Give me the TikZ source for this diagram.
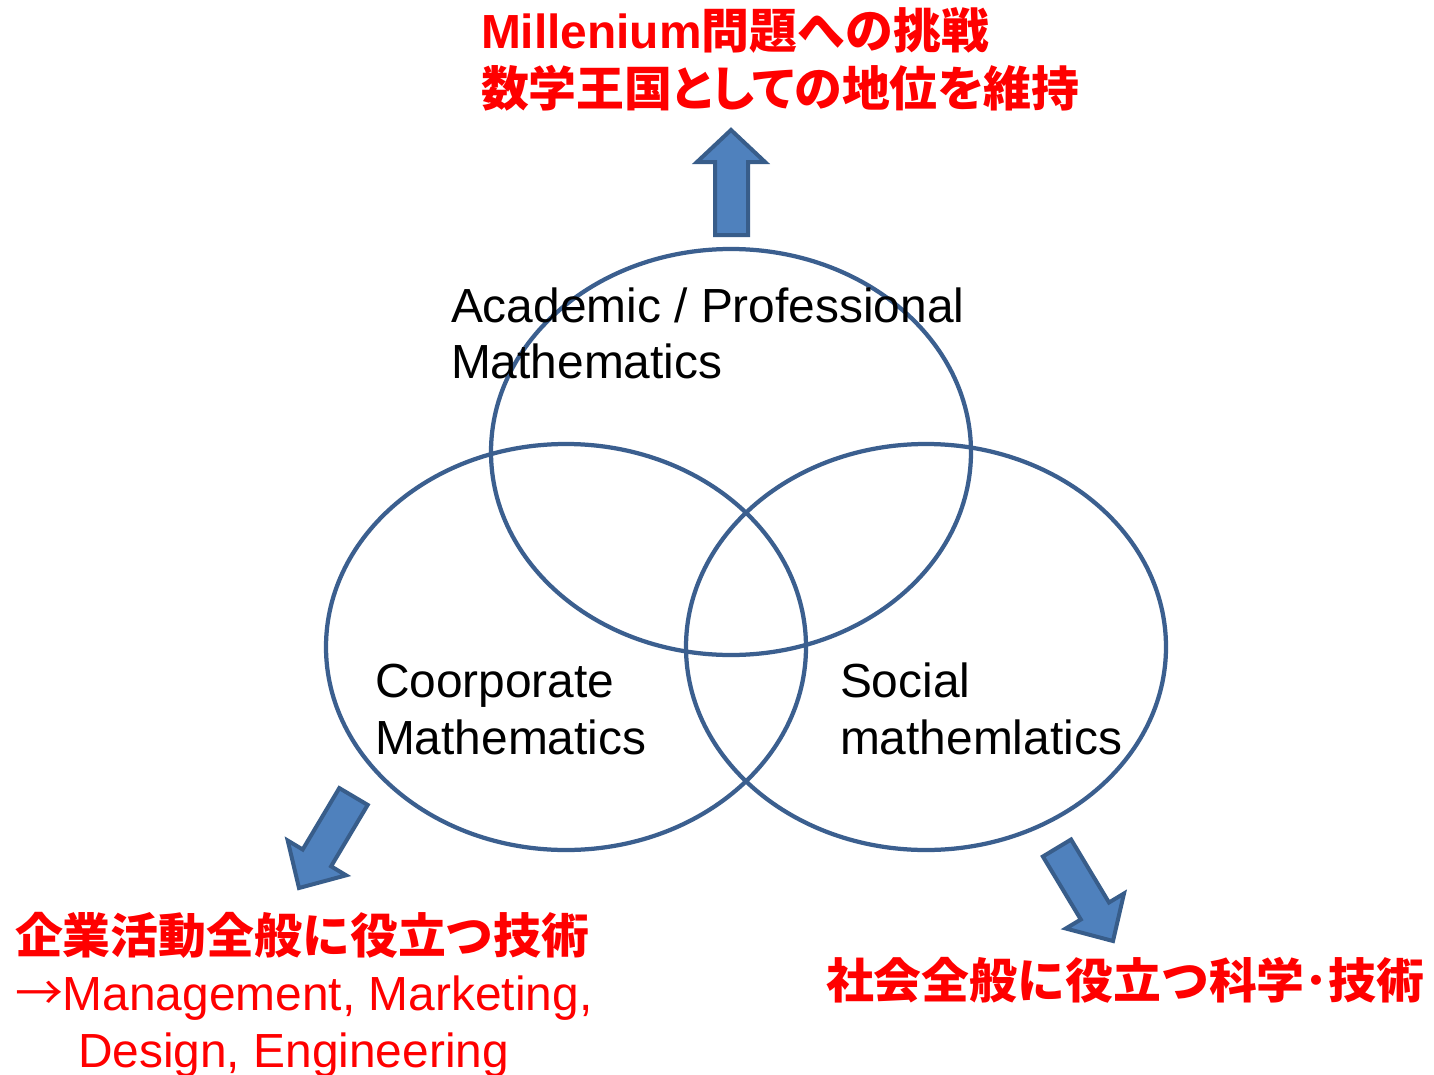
\documentclass[tikz,border=0pt]{standalone}
\usepackage{fontspec}
\setmainfont{Liberation Sans}
\newfontfamily\jp{Noto Sans CJK JP}
\newfontfamily\jpp{Noto Sans CJK JP}[RawFeature=+palt]
\definecolor{ringblue}{HTML}{3B5F8F}
\definecolor{arrowfill}{HTML}{4F81BD}
\definecolor{arrowline}{HTML}{385D8A}
\definecolor{txtred}{HTML}{FF0000}
\tikzset{
  ring/.style={draw=ringblue, line width=0.085cm},
  blockarrow/.style={fill=arrowfill, draw=arrowline, line width=0.08cm, line join=miter},
  lbl/.style={anchor=base west, inner sep=0pt, outer sep=0pt, font=\fontsize{27.25}{32}\selectfont},
  redlbl/.style={lbl, text=txtred},
}
\begin{document}
\begin{tikzpicture}[x=0.02cm, y=-0.02cm]
\useasboundingbox (0,0) rectangle (1434,1075);
\fill[white] (0,0) rectangle (1434,1075);
% circles
\draw[ring] (731,452) ellipse [x radius=240, y radius=203];
\draw[ring] (566,647) ellipse [x radius=240, y radius=203];
\draw[ring] (926,647) ellipse [x radius=240, y radius=203];
% block arrows
\draw[blockarrow] (731,130) -- (765,162) -- (748,162) -- (748,235) -- (715,235) -- (715,162) -- (697,162) -- cycle;
\draw[blockarrow] (339.3,788.1) -- (302.7,849.5) -- (287.7,840.5) -- (299,888) -- (346.1,875.3) -- (331.1,866.3) -- (367.7,804.9) -- cycle;
\draw[blockarrow] (1071.1,839.5) -- (1109.0,902.5) -- (1124.0,893.5) -- (1113,941) -- (1065.8,928.5) -- (1080.8,919.5) -- (1042.9,856.5) -- cycle;
% labels in circles
\node[lbl] (a1) at (451,322) {Academic / Professional};
\node[lbl] (a2) at (451,378) {Mathematics};
\node[lbl] (c1) at (375,697) {Coorporate};
\node[lbl] (c2) at (375,754) {Mathematics};
\node[lbl] (s1) at (840,697) {Social};
\node[lbl] (s2) at (840,754) {mathemlatics};
% red texts
\node[redlbl] (t1) at (481,49) {\bfseries Millenium{\jp 問題への挑戦}};
\node[redlbl] (t2) at (481,106) {\jpp\bfseries 数学王国としての地位を維持};
\node[redlbl] (b1) at (15,953) {\jp\bfseries 企業活動全般に役立つ技術};
\node[redlbl] (b2) at (15,1010) {{\jp →}Management, Marketing,};
\node[redlbl] (b3) at (78,1067) {Design, Engineering};
\node[redlbl] (r1) at (826,998) {\jp\bfseries 社会全般に役立つ科学･技術};
\end{tikzpicture}
\end{document}
